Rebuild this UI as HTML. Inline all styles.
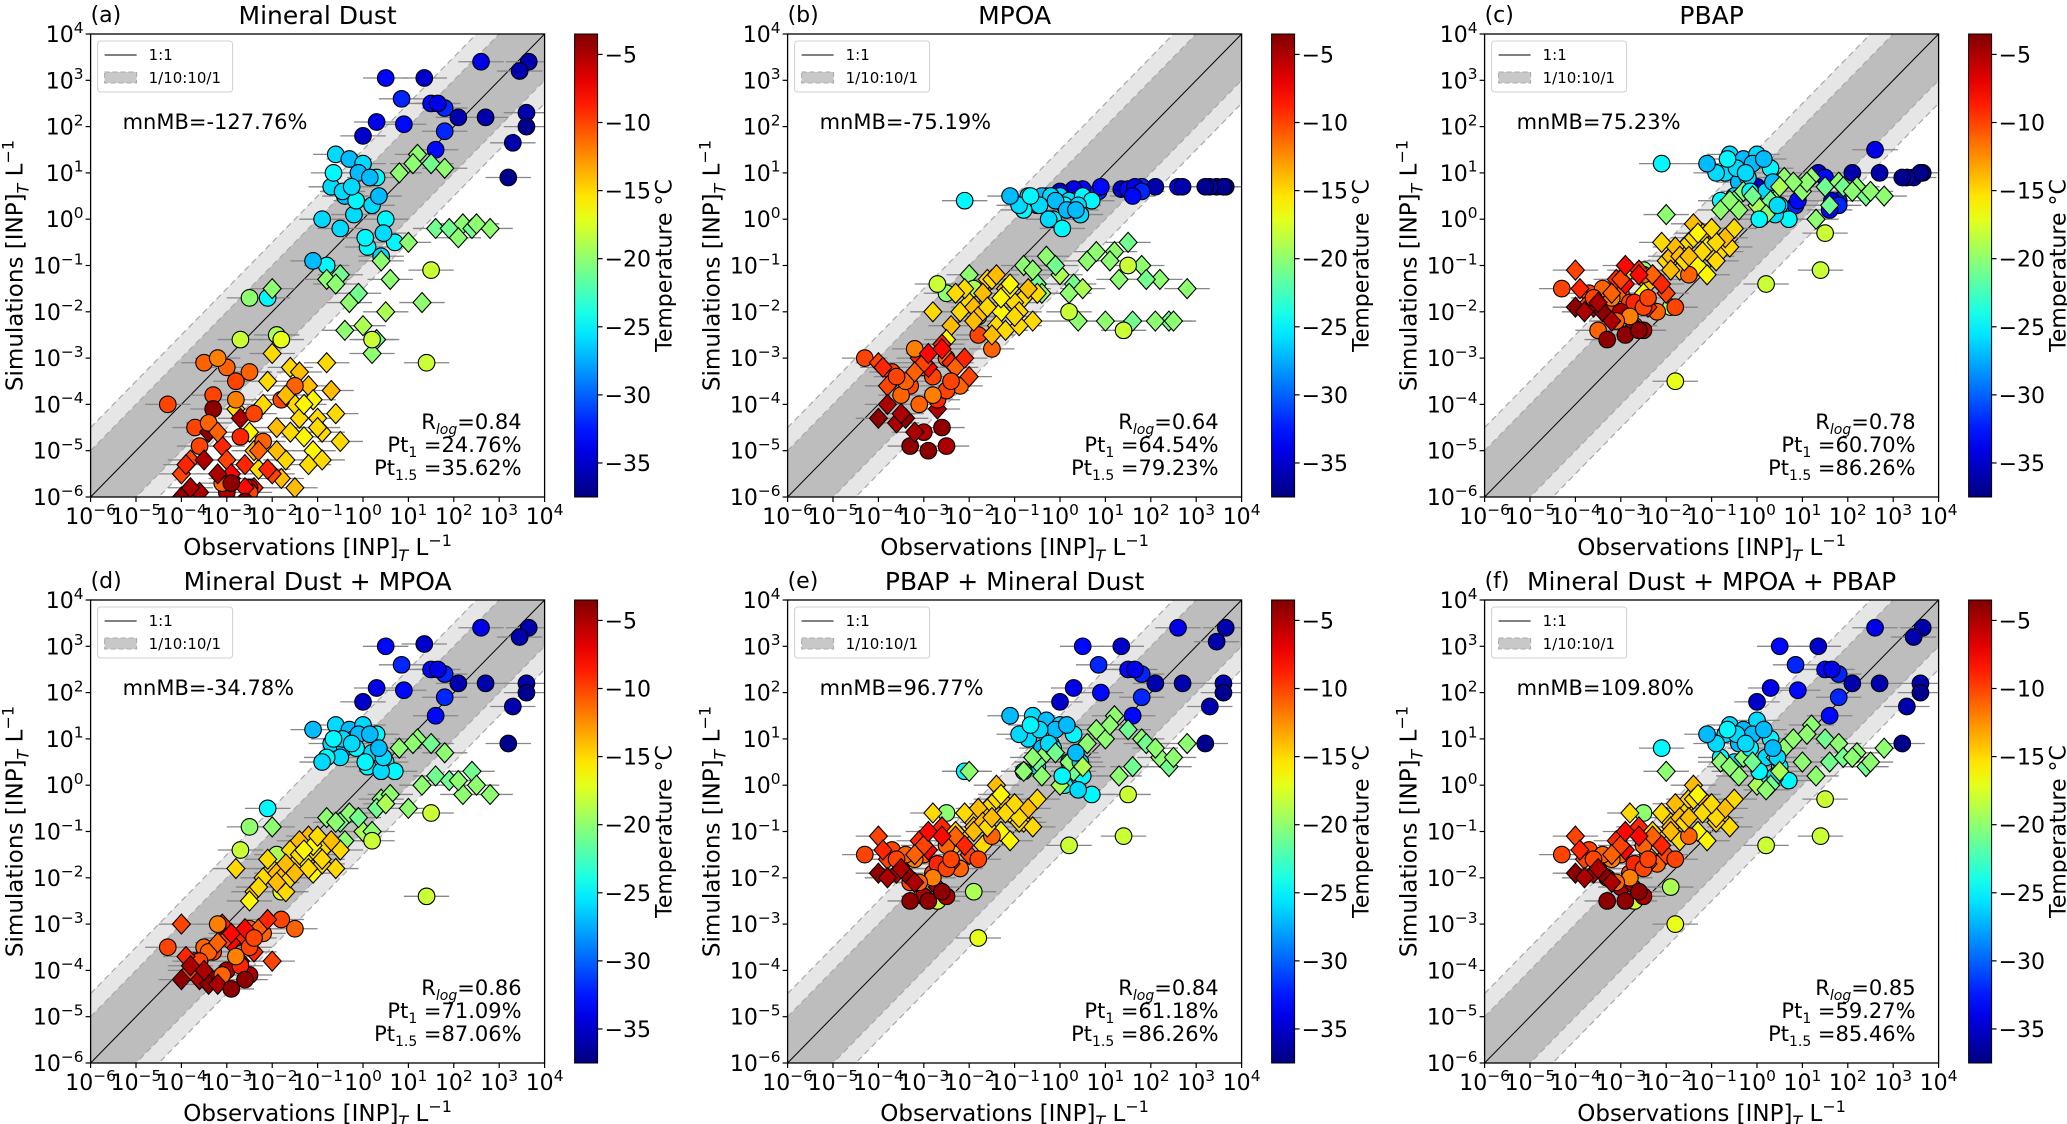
<!DOCTYPE html>
<html><head><meta charset="utf-8"><style>
html,body{margin:0;padding:0;background:#fff;}
svg{display:block;font-family:"DejaVu Sans","Liberation Sans",sans-serif;}
</style></head><body>
<svg id="fig" width="2067" height="1124" viewBox="0 0 2067 1124"></svg>
<script>
// ---- data (log10 values) ----
const obs = [3.65,3.45,2.6,1.35,0.5,0.85,1.5,1.8,1.65,2.1,2.7,3.6,3.6,3.3,0.3,0.9,1.8,0.0,1.6,3.2,
 -0.6,-0.3,0.0,0.3,-0.7,-0.4,0.2,0.5,-0.2,0.7,-0.5,0.1,-0.8,0.4,-0.1,-2.1,-0.9,-1.1,
 1.2,1.5,1.8,2.2,2.8,2.4,1.6,1.0,0.4,-0.5,-0.8,-0.3,0.0,-0.4,0.6,1.3,-2.0,0.3,0.2,
 1.4,1.5,-2.5,-1.9,-2.7,-1.8,0.2,
 -2.0,-1.6,-1.2,-0.8,-2.2,-1.9,-1.5,-1.3,-1.0,-0.6,-2.4,-1.7,-1.1,-2.8,-1.8,-0.5,-1.4,-2.5,
 -3.0,-2.8,-2.5,-3.3,-3.5,-4.3,-3.7,-2.2,-2.6,-3.1,-2.0,-3.8,-2.4,-1.5,-1.8,-4.0,-2.9,-3.2,
 -3.6,-3.0,-3.3,-2.7,-3.4,-2.5,-4.0,
 -0.45,-0.15,0.15,0.45,-0.65,-0.25,0.05,0.35,
 1.1,1.9,2.5,0.8,-0.1,-0.6,0.5,2.1,
 -2.1,-1.7,-1.4,-1.1,-0.9,-0.7,-1.6,-1.2,-1.9,-1.3,-0.9,-2.3,-1.5,-1.0,
 -3.4,-3.0,-2.7,-2.3,-2.9,-3.6,-2.5,-2.1,-3.2,-2.8,-2.6,-3.9,-2.4,-3.1,
 -3.2,-2.9,-3.5,-2.6,-3.8];
const temp = [-36,-36,-34,-35,-33,-32,-33,-32,-34,-36,-36,-36,-37,-36,-34,-33,-32,-35,-33,-37,
 -26,-27,-26,-25,-26,-27,-26,-25,-26,-25,-26,-25,-25,-26,-27,-25,-26,-27,
 -20,-21,-20,-20,-20,-21,-21,-20,-20,-21,-20,-20,-19,-20,-20,-20,-20,-21,-20,
 -18,-18,-20,-19,-18,-17,-18,
 -15,-15,-14,-15,-15,-14,-15,-16,-15,-15,-14,-15,-16,-15,-14,-15,-14,-16,
 -11,-10,-11,-10,-11,-10,-10,-11,-9,-9,-10,-10,-9,-11,-10,-10,-8,-12,
 -5,-5,-4,-5,-4,-5,-4,
 -26,-25,-27,-26,-25,-26,-25,-27,
 -20,-21,-20,-20,-21,-20,-19,-20,
 -15,-14,-15,-16,-15,-14,-15,-15,-14,-16,-15,-15,-14,-15,
 -11,-10,-9,-11,-8,-10,-10,-9,-11,-12,-8,-9,-10,-11,
 -5,-4,-5,-4,-5];
const shapes = [].concat(
 Array(20).fill('o'), Array(18).fill('o'), Array(19).fill('d'), Array(7).fill('o'), Array(18).fill('d'),
 ['o','o','o','o','o','o','o','o','d','d','d','d','d','o','o','d','d','o'],
 ['d','o','o','d','d','o','d'],
 Array(8).fill('o'), Array(8).fill('d'), Array(14).fill('d'),
 ['o','d','o','d','d','o','o','d','d','o','d','d','o','o'],
 ['d','o','d','o','d']);
const simA = [3.4,3.2,3.4,3.05,3.05,2.6,2.5,2.4,2.5,2.2,2.2,2.3,2.0,1.65,2.1,2.05,1.9,1.8,1.5,0.9,
 1.4,1.3,1.2,0.9,0.7,0.5,0.3,0.0,0.1,-0.5,-0.2,-0.6,-1.0,-0.8,1.0,-1.7,0.0,-0.9,
 1.4,1.2,1.1,-0.1,-0.2,-0.2,-0.2,-0.5,-0.9,-1.2,-1.3,-1.8,-2.3,-2.4,-1.3,-1.8,-1.5,-2.6,-2.9,
 -3.1,-1.1,-1.7,-2.5,-2.6,-2.6,-2.6,
 -2.9,-3.2,-3.6,-3.1,-4.0,-4.5,-4.0,-4.7,-4.3,-4.2,-5.0,-5.2,-5.0,-4.1,-5.6,-4.8,-3.3,-4.6,
 -3.2,-3.5,-3.3,-3.8,-3.1,-4.0,-4.5,-4.8,-5.3,-4.9,-5.5,-5.2,-5.8,-3.6,-3.9,-5.5,-5.6,-3.0,
 -5.9,-5.9,-4.1,-4.3,-4.6,-5.8,-6.0,
 0.6,0.4,0.9,-0.3,1.0,0.7,-0.4,0.5,
 1.2,-0.2,-0.1,1.0,-1.6,-1.4,-2.0,-0.4,
 -3.5,-3.8,-4.3,-3.9,-4.6,-3.7,-4.6,-5.3,-5.0,-4.0,-5.2,-5.4,-5.8,-4.5,
 -4.4,-5.2,-4.7,-5.0,-5.5,-4.9,-5.9,-5.4,-4.6,-3.9,-5.8,-5.3,-4.2,-5.7,
 -5.5,-5.7,-5.2,-6.1,-5.8];
const simB = [0.7,0.7,0.7,0.65,0.65,0.6,0.65,0.7,0.7,0.7,0.7,0.7,0.7,0.7,0.65,0.7,0.6,0.6,0.5,0.7,
 0.4,0.5,0.5,0.4,0.5,0.5,0.4,0.5,0.5,0.4,0.3,0.3,0.2,0.3,0.4,0.4,0.3,0.5,
 -0.7,-0.5,-1.0,-1.3,-1.5,-2.2,-2.2,-2.2,-2.2,-1.4,-1.0,-0.8,-1.2,-1.6,-0.9,-1.3,-1.2,-1.4,-1.6,
 -2.4,-1.0,-1.6,-1.5,-1.4,-2.1,-2.0,
 -1.8,-1.3,-1.5,-1.7,-2.0,-1.9,-1.3,-2.0,-1.8,-2.2,-2.3,-1.6,-1.5,-2.0,-2.1,-1.6,-1.2,-2.6,
 -3.2,-3.4,-3.0,-3.6,-3.8,-3.0,-3.3,-3.6,-2.7,-3.0,-3.4,-3.6,-3.1,-2.8,-2.5,-3.1,-3.2,-2.8,
 -4.4,-4.6,-4.9,-4.1,-4.3,-4.9,-4.3,
 0.3,0.0,0.2,0.1,0.5,0.0,-0.2,0.2,
 -0.9,-1.3,-2.2,-0.7,-1.0,-1.1,-1.5,-2.2,
 -1.5,-1.6,-2.3,-1.4,-2.0,-1.5,-1.9,-2.4,-2.2,-1.7,-2.3,-1.6,-2.5,-2.1,
 -3.5,-3.1,-3.9,-3.2,-2.9,-3.4,-3.7,-3.0,-3.3,-3.8,-2.8,-3.2,-3.5,-4.0,
 -4.6,-5.0,-4.2,-4.5,-4.0];
const simC = [1.0,0.9,1.5,1.0,0.8,0.3,0.9,0.4,0.4,1.0,1.0,1.0,1.0,0.9,0.5,0.4,0.3,0.7,0.2,0.9,
 1.4,1.3,1.4,1.1,1.0,0.8,0.6,0.3,0.9,0.0,0.5,0.2,0.4,0.1,1.2,1.2,1.0,1.2,
 0.9,0.7,0.8,0.7,0.5,0.5,0.3,0.6,0.4,0.4,0.2,0.6,0.3,0.2,0.9,0.0,0.1,0.4,0.1,
 -1.1,-0.3,-1.1,-1.9,-2.3,-3.5,-1.4,
 -0.9,-0.6,-0.3,-0.7,-1.3,-0.8,-0.5,-1.0,-0.8,-0.6,-1.4,-1.1,-1.2,-1.1,-0.6,-0.2,-0.1,-1.6,
 -1.6,-1.8,-1.2,-2.0,-2.4,-1.5,-1.6,-2.0,-1.1,-1.3,-1.6,-1.9,-1.9,-1.2,-1.9,-1.1,-1.4,-1.7,
 -1.9,-2.0,-2.6,-2.3,-2.0,-2.4,-1.9,
 1.1,0.6,1.3,0.3,1.3,1.0,0.0,0.8,
 0.8,0.7,0.6,0.8,0.5,0.4,0.7,0.6,
 -0.5,-0.8,-0.4,-0.6,-0.9,-0.4,-0.9,-0.7,-1.1,-0.3,-0.5,-1.2,-0.8,-0.2,
 -1.5,-1.3,-1.8,-1.2,-1.0,-1.7,-1.9,-1.4,-1.6,-2.1,-1.2,-1.5,-1.7,-2.2,
 -2.2,-2.5,-1.8,-2.4,-2.0];
const simD = [3.4,3.2,3.4,3.05,3.0,2.6,2.5,2.4,2.5,2.2,2.2,2.2,2.0,1.7,2.1,2.05,1.9,1.8,1.5,0.9,
 1.3,1.2,1.3,1.1,0.9,0.8,0.7,0.5,1.0,0.3,0.6,0.4,0.6,0.3,1.1,-0.5,0.5,1.2,
 1.0,0.9,0.7,-0.2,-0.2,0.3,0.2,-0.5,-0.3,-0.8,-0.7,-0.6,-1.0,-1.2,-0.2,0.0,-0.9,-0.5,-1.0,
 -2.4,-0.6,-0.9,-1.5,-1.4,-2.3,-1.2,
 -1.8,-1.4,-1.1,-1.3,-2.0,-1.9,-1.7,-1.6,-1.5,-1.8,-2.3,-2.3,-1.9,-1.8,-2.0,-1.4,-1.2,-2.5,
 -3.3,-3.3,-3.1,-3.6,-3.5,-3.5,-3.8,-3.2,-3.3,-3.0,-3.8,-4.0,-3.6,-3.1,-2.9,-3.0,-3.4,-3.0,
 -4.2,-4.0,-4.2,-3.8,-4.3,-4.1,-4.2,
 1.0,0.8,1.1,0.6,1.0,0.9,0.5,0.8,
 0.9,0.1,0.0,0.8,-0.7,-0.8,-0.4,0.1,
 -1.6,-1.7,-1.5,-1.3,-1.7,-1.2,-2.0,-1.8,-2.1,-1.4,-1.6,-2.2,-1.9,-1.1,
 -3.6,-3.3,-3.9,-3.1,-3.2,-3.8,-3.5,-2.9,-3.4,-3.7,-3.1,-3.7,-3.3,-4.1,
 -4.3,-4.4,-4.0,-4.2,-3.9];
const simE = [3.4,3.1,3.4,3.0,3.0,2.6,2.5,2.4,2.5,2.2,2.2,2.2,2.0,1.7,2.1,2.0,1.9,1.8,1.5,0.9,
 1.5,1.4,1.3,1.1,1.0,0.8,0.5,0.2,0.9,-0.2,0.4,0.0,0.3,-0.1,1.2,0.3,1.1,1.5,
 1.5,1.2,1.0,0.6,0.9,0.4,0.4,1.0,0.6,0.5,0.3,0.7,0.0,0.2,0.9,0.2,0.3,0.3,0.5,
 -1.1,-0.2,-0.6,-2.3,-2.5,-3.3,-1.3,
 -0.7,-0.5,-0.4,-0.8,-1.1,-0.9,-0.4,-1.0,-0.5,-0.9,-1.4,-1.3,-1.2,-0.6,-0.5,-0.3,0.0,-1.2,
 -1.5,-1.9,-1.3,-2.1,-1.8,-1.5,-1.4,-1.8,-0.9,-1.2,-1.5,-1.6,-1.7,-1.1,-1.6,-1.1,-1.4,-1.6,
 -1.9,-2.4,-2.5,-2.2,-1.9,-2.4,-1.9,
 1.2,0.8,1.3,0.5,1.3,0.9,0.2,0.7,
 1.3,0.9,0.6,1.2,0.7,0.6,0.4,0.8,
 -0.6,-0.8,-0.3,-0.6,-0.8,-0.5,-0.9,-0.6,-1.0,-0.2,-0.7,-1.0,-0.7,-0.4,
 -1.5,-1.3,-1.7,-1.1,-1.0,-1.6,-1.8,-1.3,-1.5,-2.0,-1.1,-1.4,-1.6,-2.1,
 -2.1,-2.5,-1.8,-2.3,-2.0];
const simF = [3.4,3.2,3.4,3.0,3.0,2.6,2.5,2.4,2.5,2.2,2.2,2.2,2.0,1.7,2.1,2.05,1.9,1.8,1.5,0.9,
 1.3,1.2,1.4,1.0,1.1,0.9,0.6,0.4,1.0,0.1,0.5,0.2,0.6,0.2,1.1,0.8,0.9,1.1,
 1.3,1.0,0.9,0.7,0.8,0.4,0.5,0.5,0.6,0.3,0.5,0.6,0.0,0.2,0.8,0.2,0.3,0.0,-0.1,
 -1.1,-0.3,-0.6,-2.2,-2.5,-3.0,-1.3,
 -0.7,-0.5,-0.3,-0.7,-1.1,-0.9,-0.3,-1.0,-0.5,-0.9,-1.5,-1.2,-1.2,-0.6,-0.4,-0.3,0.0,-1.3,
 -1.5,-1.9,-1.3,-2.0,-1.8,-1.5,-1.4,-1.7,-0.9,-1.2,-1.5,-1.6,-1.7,-1.1,-1.6,-1.1,-1.4,-1.6,
 -1.9,-2.2,-2.5,-2.2,-1.9,-2.4,-1.9,
 1.1,0.8,1.2,0.6,1.2,0.9,0.3,0.8,
 1.1,0.6,0.5,1.0,0.5,0.4,0.3,0.6,
 -0.6,-0.7,-0.3,-0.5,-0.8,-0.5,-0.8,-0.6,-1.0,-0.2,-0.7,-1.0,-0.7,-0.4,
 -1.5,-1.3,-1.7,-1.1,-1.0,-1.6,-1.8,-1.3,-1.5,-2.0,-1.1,-1.4,-1.6,-2.1,
 -2.1,-2.5,-1.8,-2.3,-2.0];
const titles = ["Mineral Dust","MPOA","PBAP","Mineral Dust + MPOA","PBAP + Mineral Dust","Mineral Dust + MPOA + PBAP"];
const letters = ["(a)","(b)","(c)","(d)","(e)","(f)"];
const mnMB = ["-127.76%","-75.19%","75.23%","-34.78%","96.77%","109.80%"];
const rlog = ["0.84","0.64","0.78","0.86","0.84","0.85"];
const pt1 = ["24.76%","64.54%","60.70%","71.09%","61.18%","59.27%"];
const pt15 = ["35.62%","79.23%","86.26%","87.06%","86.26%","85.46%"];
const sims = [simA,simB,simC,simD,simE,simF];
const decades = [-6,-5,-4,-3,-2,-1,0,1,2,3,4];
const cbTicks = [-5,-10,-15,-20,-25,-30,-35];
const TMIN=-37.5, TMAX=-3.5;

const NS="http://www.w3.org/2000/svg";
const svg=document.getElementById('fig');
function mk(tag,attrs,parent){const e=document.createElementNS(NS,tag);for(const k in attrs)e.setAttribute(k,attrs[k]);(parent||svg).appendChild(e);return e;}
function jet(v){
  const r=Math.min(Math.max(1.5-Math.abs(4*v-3),0),1);
  const g=Math.min(Math.max(1.5-Math.abs(4*v-2),0),1);
  const b=Math.min(Math.max(1.5-Math.abs(4*v-1),0),1);
  return `rgb(${Math.round(r*255)},${Math.round(g*255)},${Math.round(b*255)})`;}
function tcol(t){return jet((t-TMIN)/(TMAX-TMIN));}
function pow(parent,x,y,k,anchor,size){
  const t=mk('text',{x:x,y:y,'text-anchor':anchor,'font-size':size,fill:'#000'},parent);
  t.appendChild(document.createTextNode('10'));
  const s=mk('tspan',{dy:-size*0.42,'font-size':size*0.7},t);
  s.textContent=(k<0?'\u2212':'')+Math.abs(k);
  return t;}

const defs=mk('defs',{});
for(let p=0;p<6;p++){
  const col=p%3,row=Math.floor(p/3);
  const L=90.6+697*col, T=34+566*row, W=454, H=463;
  const sx=v=>L+(v+6)/10*W, sy=v=>T+H-(v+6)/10*H;
  const g=mk('g',{});
  
  
  const cp=mk('clipPath',{id:'cp'+p},defs);
  mk('rect',{x:L,y:T,width:W,height:H},cp);
  const plot=mk('g',{'clip-path':`url(#cp${p})`},g);
  const band=(d,fill)=>mk('polygon',{points:`${sx(-6)},${sy(-6+d)} ${sx(4)},${sy(4+d)} ${sx(4)},${sy(4-d)} ${sx(-6)},${sy(-6-d)}`,fill:fill},plot);
  const lb=band(1.5,'#e6e6e6');
  const db=band(1,'#bdbdbd');
  [1,-1,1.5,-1.5].forEach(d=>mk('line',{x1:sx(-6),y1:sy(-6+d),x2:sx(4),y2:sy(4+d),stroke:'#a8a8a8','stroke-width':1.2,'stroke-dasharray':'6,4'},plot));
  const one=mk('line',{x1:sx(-6),y1:sy(-6),x2:sx(4),y2:sy(4),stroke:'#000','stroke-width':1},plot);
  
  const sim=sims[p];
  for(let i=0;i<obs.length;i++){
    const y=sy(sim[i]);
    const eb=mk('line',{x1:sx(obs[i]-0.5),x2:sx(obs[i]+0.5),y1:y,y2:y,stroke:'#888','stroke-width':1.3},plot);
    
  }
  for(let i=0;i<obs.length;i++){
    const x=sx(obs[i]),y=sy(sim[i]),c=tcol(temp[i]);let m;
    if(shapes[i]==='d') m=mk('polygon',{points:`${x},${y-10} ${x+9},${y} ${x},${y+10} ${x-9},${y}`,fill:c,stroke:'#000','stroke-width':1.1},plot);
    else m=mk('circle',{cx:x,cy:y,r:8.3,fill:c,stroke:'#000','stroke-width':1.1},plot);
    
    
  }
  mk('rect',{x:L,y:T,width:W,height:H,fill:'none',stroke:'#000','stroke-width':1.3},g);
  decades.forEach(k=>{
    mk('line',{x1:sx(k),x2:sx(k),y1:T+H,y2:T+H+5,stroke:'#000','stroke-width':1.2},g);
    mk('line',{x1:L-5,x2:L,y1:sy(k),y2:sy(k),stroke:'#000','stroke-width':1.2},g);
    const xl=pow(g,sx(k),T+H+27,k,'middle',22);
    
    const yl=pow(g,L-7,sy(k)+8,k,'end',22);
    
  });
  const xt=mk('text',{x:L+W/2,y:T+H+58,'text-anchor':'middle','font-size':23},g);
  xt.innerHTML='Observations [INP]<tspan font-size="16" dy="6" font-style="italic">T</tspan><tspan dy="-6"> L</tspan><tspan font-size="16" dy="-9">\u22121</tspan>';
  
  const yt=mk('text',{x:0,y:0,'text-anchor':'middle','font-size':23,transform:`translate(${L-68},${T+H/2}) rotate(-90)`},g);
  yt.innerHTML='Simulations [INP]<tspan font-size="16" dy="6" font-style="italic">T</tspan><tspan dy="-6"> L</tspan><tspan font-size="16" dy="-9">\u22121</tspan>';
  
  const tt=mk('text',{x:L+W/2,y:T-10,'text-anchor':'middle','font-size':25},g);tt.textContent=titles[p];
  
  const lt=mk('text',{x:L,y:T-12,'font-size':22},g);lt.textContent=letters[p];
  
  const lg=mk('g',{},g);
  mk('rect',{x:L+7,y:T+7,width:135,height:51,rx:3,fill:'#fff','fill-opacity':0.85,stroke:'#d0d0d0'},lg);
  mk('line',{x1:L+14,x2:L+46,y1:T+21,y2:T+21,stroke:'#000','stroke-width':1},lg);
  mk('rect',{x:L+14,y:T+38,width:32,height:11,fill:'#c8c8c8',stroke:'#aaa','stroke-dasharray':'5,3'},lg);
  const l1=mk('text',{x:L+58,y:T+26,'font-size':15},lg);l1.textContent='1:1';
  const l2=mk('text',{x:L+58,y:T+49,'font-size':15},lg);l2.textContent='1/10:10/1';
  const mb=mk('text',{x:L+32,y:T+95,'font-size':21},g);mb.textContent='mnMB='+mnMB[p];
  
  const st=mk('g',{'font-size':21,'text-anchor':'end'},g);
  mk('text',{x:L+431,y:T+395},st).innerHTML='R<tspan font-size="14" dy="5" font-style="italic">log</tspan><tspan dy="-5">='+rlog[p]+'</tspan>';
  mk('text',{x:L+431,y:T+418},st).innerHTML='Pt<tspan font-size="14" dy="5">1</tspan><tspan dy="-5"> ='+pt1[p]+'</tspan>';
  mk('text',{x:L+431,y:T+441},st).innerHTML='Pt<tspan font-size="14" dy="5">1.5</tspan><tspan dy="-5"> ='+pt15[p]+'</tspan>';
  const cx=L+484,cw=23;
  const gid='cbg'+p;
  const lgd=mk('linearGradient',{id:gid,x1:0,y1:1,x2:0,y2:0},defs);
  for(let s=0;s<=20;s++) mk('stop',{offset:s/20,'stop-color':jet(s/20)},lgd);
  const cb=mk('rect',{x:cx,y:T,width:cw,height:H,fill:`url(#${gid})`,stroke:'#000','stroke-width':1},g);
  
  const cy=t=>T+H-(t-TMIN)/(TMAX-TMIN)*H;
  cbTicks.forEach(t=>{
    mk('line',{x1:cx+cw,x2:cx+cw+5,y1:cy(t),y2:cy(t),stroke:'#000','stroke-width':1.2},g);
    const tl=mk('text',{x:cx+cw+7,y:cy(t)+8,'font-size':22},g);tl.textContent='\u2212'+Math.abs(t);
    
  });
  const ct=mk('text',{x:0,y:0,'text-anchor':'middle','font-size':22,transform:`translate(${cx+cw+74},${T+H/2}) rotate(90)`},g);
  ct.setAttribute('transform',`translate(${cx+cw+58},${T+H/2}) rotate(-90) translate(0,16)`);
  ct.textContent='Temperature \u00B0C';
  
}
</script>
</body></html>
